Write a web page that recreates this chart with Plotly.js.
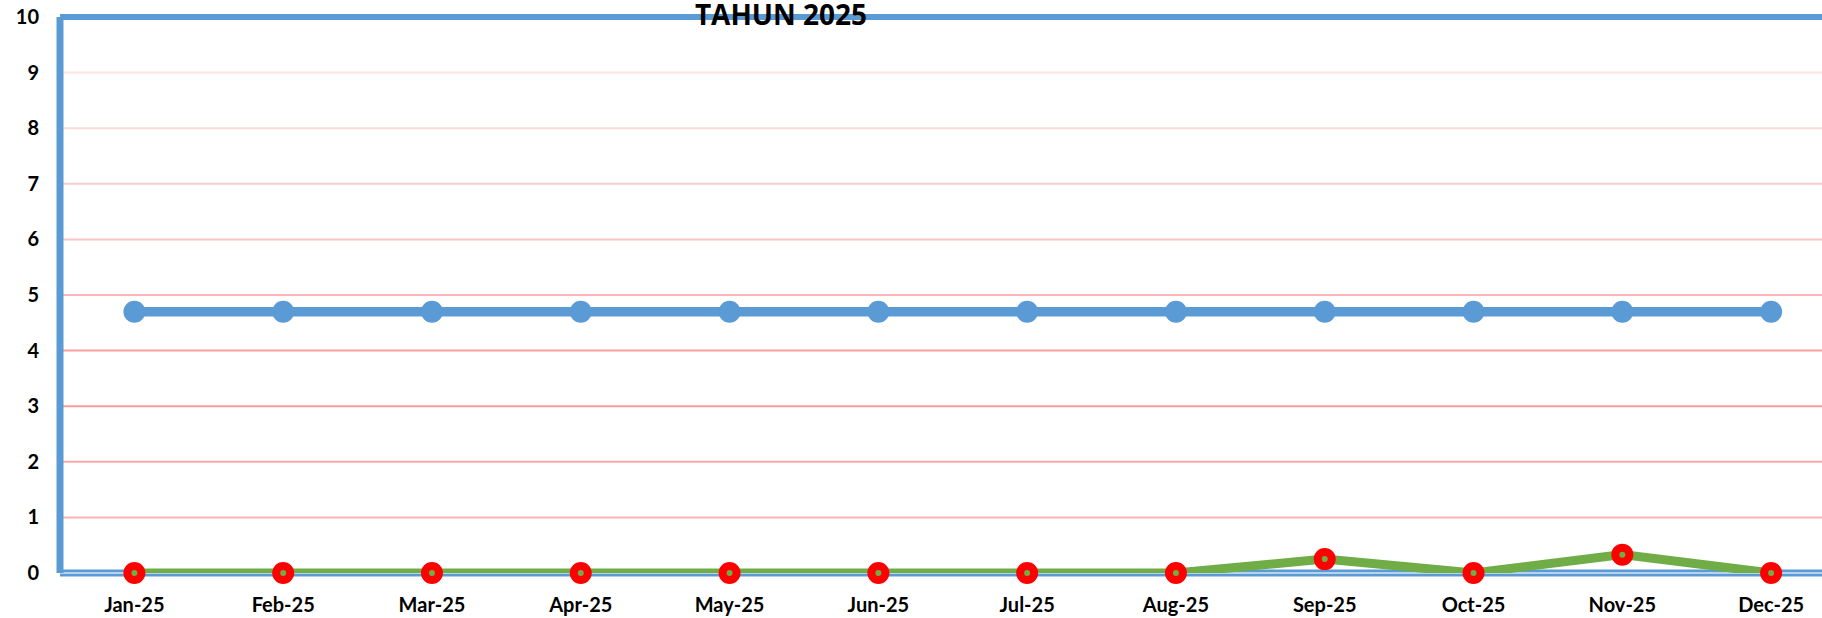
<!DOCTYPE html>
<html>
<head>
<meta charset="utf-8">
<script src="https://cdn.plot.ly/plotly-3.0.1.min.js"></script>
<style>
  html, body { margin: 0; padding: 0; background: #ffffff; overflow: hidden; }
  #chart { width: 1822px; height: 618px; }
</style>
</head>
<body>
<div id="chart"></div>
<script>
// ---- data ----
const months = ['Jan-25', 'Feb-25', 'Mar-25', 'Apr-25', 'May-25', 'Jun-25',
                'Jul-25', 'Aug-25', 'Sep-25', 'Oct-25', 'Nov-25', 'Dec-25'];
const targetValues = [4.7, 4.7, 4.7, 4.7, 4.7, 4.7, 4.7, 4.7, 4.7, 4.7, 4.7, 4.7];
const actualValues = [0, 0, 0, 0, 0, 0, 0, 0, 0.25, 0, 0.33, 0];
const yTickValues = [0, 1, 2, 3, 4, 5, 6, 7, 8, 9, 10];
const gridValues = [1, 2, 3, 4, 5, 6, 7, 8, 9];
const chartTitle = 'TAHUN 2025';

// ---- styles ----
const gridColors = ['#F9B2B2', '#FBA8A8', '#FB9A9A', '#FC9E9E', '#FCB4B4',
                    '#FCC4C4', '#FCCACA', '#FDDADA', '#FDE4E2'];
const blue = '#5B9BD5';
const green = '#70AD47';
const red = '#FF0000';
const tickFont = { family: 'Lato, "Open Sans", sans-serif', size: 20, color: '#000000', weight: 'bold' };

const shapes = [];
gridValues.forEach(function (v, i) {
  shapes.push({
    type: 'line', xref: 'paper', yref: 'y', x0: 0, x1: 1, y0: v, y1: v,
    line: { color: gridColors[i], width: 2 }, layer: 'below'
  });
});
// bottom double line
shapes.push({ type: 'line', xref: 'paper', yref: 'paper', x0: 0, x1: 1, y0: 0, y1: 0,
  line: { color: blue, width: 7 }, layer: 'between' });
shapes.push({ type: 'line', xref: 'paper', yref: 'paper', x0: 0, x1: 1, y0: 0, y1: 0,
  line: { color: '#D6E4F2', width: 1.5 }, layer: 'between' });
// left border
shapes.push({ type: 'line', xref: 'paper', yref: 'paper', x0: 0, x1: 0, y0: 0, y1: 1,
  line: { color: blue, width: 7 }, layer: 'between' });
// top border
shapes.push({ type: 'line', xref: 'paper', yref: 'paper', x0: 0, x1: 1, y0: 1, y1: 1,
  line: { color: blue, width: 6 }, layer: 'between' });

const traces = [
  {
    type: 'scatter', mode: 'lines+markers', name: 'Target',
    x: months, y: targetValues,
    line: { color: blue, width: 9.5 },
    marker: { color: blue, size: 22, line: { width: 0 } },
    cliponaxis: false, hoverinfo: 'x+y'
  },
  {
    type: 'scatter', mode: 'lines+markers', name: 'Realisasi',
    x: months, y: actualValues,
    line: { color: green, width: 9 },
    marker: { color: green, size: 14, line: { color: red, width: 8 } },
    cliponaxis: false, hoverinfo: 'x+y'
  }
];

const layout = {
  width: 1822, height: 618,
  margin: { l: 60, r: 0, t: 17, b: 45, pad: 0 },
  paper_bgcolor: '#ffffff', plot_bgcolor: '#ffffff',
  showlegend: false,
  title: {
    text: '<b>' + chartTitle + '</b>',
    font: { family: '"Open Sans", sans-serif', size: 28, color: '#000000' },
    xref: 'container', yref: 'container',
    x: 781 / 1822, xanchor: 'center',
    y: 1 - 15 / 618, yanchor: 'middle'
  },
  xaxis: {
    type: 'category',
    range: [-0.5, 11.342],
    showgrid: false, zeroline: false, showline: false,
    ticks: '', tickfont: tickFont,
    ticklabelstandoff: 18,
    fixedrange: true
  },
  yaxis: {
    range: [0, 10],
    tickvals: yTickValues,
    ticktext: yTickValues.map(String),
    showgrid: false, zeroline: false, showline: false,
    ticks: '', tickfont: tickFont,
    ticklabelstandoff: 20,
    fixedrange: true
  },
  shapes: shapes
};

Plotly.newPlot('chart', traces, layout, { displayModeBar: false, staticPlot: true });
</script>
</body>
</html>
